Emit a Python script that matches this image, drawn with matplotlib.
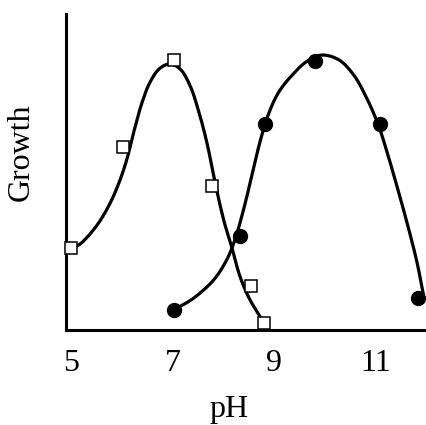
import matplotlib

matplotlib.use("Agg")
import matplotlib.pyplot as plt
import numpy as np

# open squares: measured points
SQ_PH = [5.00, 6.02, 7.03, 7.78, 8.55, 8.81]
SQ_GROWTH = [25.9, 57.9, 85.4, 45.6, 13.9, 2.2]
# filled circles: measured points
CI_PH = [7.03, 8.33, 8.83, 9.81, 11.09, 11.84]
CI_GROWTH = [6.3, 29.7, 65.2, 85.1, 65.2, 10.1]

# hand-drawn fitted curves
SQ_CURVE_PH = [5.00, 5.16, 5.49, 5.75, 5.95, 6.10, 6.25, 6.40, 6.56, 6.75, 6.95,
               7.15, 7.35, 7.52, 7.68, 7.84, 8.02, 8.17, 8.33, 8.53, 8.73, 8.79]
SQ_CURVE_G = [25.9, 27.0, 32.7, 39.5, 46.8, 54.0, 63.5, 72.0, 78.5, 82.8, 84.2,
              82.6, 77.2, 69.0, 59.2, 46.6, 34.2, 26.2, 17.0, 9.5, 4.2, 2.1]
CI_CURVE_PH = [7.02, 7.41, 7.81, 8.07, 8.23, 8.40, 8.56, 8.73, 8.90, 9.10, 9.38,
               9.65, 9.94, 10.27, 10.57, 10.83, 11.06, 11.23, 11.42, 11.62, 11.82, 11.95]
CI_CURVE_G = [6.3, 10.0, 15.8, 22.2, 28.5, 38.0, 48.5, 59.8, 68.6, 75.4, 81.0,
              85.0, 87.0, 85.6, 80.8, 73.4, 64.9, 56.4, 45.9, 34.3, 21.6, 11.1]

XTICKS = [5, 7, 9, 11]


def smooth(xs, ys, n=20):
    # centripetal catmull-rom through the read points, only to draw them smoothly
    p = np.column_stack([xs, np.array(ys) / 14.0])
    p = np.vstack([2 * p[0] - p[1], p, 2 * p[-1] - p[-2]])
    out = []
    for i in range(1, len(p) - 2):
        p0, p1, p2, p3 = p[i - 1], p[i], p[i + 1], p[i + 2]
        t0 = 0.0
        t1 = t0 + np.linalg.norm(p1 - p0) ** 0.5
        t2 = t1 + np.linalg.norm(p2 - p1) ** 0.5
        t3 = t2 + np.linalg.norm(p3 - p2) ** 0.5
        t = np.linspace(t1, t2, n, endpoint=False)[:, None]
        a1 = (t1 - t) / (t1 - t0) * p0 + (t - t0) / (t1 - t0) * p1
        a2 = (t2 - t) / (t2 - t1) * p1 + (t - t1) / (t2 - t1) * p2
        a3 = (t3 - t) / (t3 - t2) * p2 + (t - t2) / (t3 - t2) * p3
        b1 = (t2 - t) / (t2 - t0) * a1 + (t - t0) / (t2 - t0) * a2
        b2 = (t3 - t) / (t3 - t1) * a2 + (t - t1) / (t3 - t1) * a3
        out.append((t2 - t) / (t2 - t1) * b1 + (t - t1) / (t2 - t1) * b2)
    out.append(p[-2][None, :])
    c = np.vstack(out)
    return c[:, 0], c[:, 1] * 14.0


plt.rcParams["font.family"] = ["Liberation Serif", "DejaVu Serif"]

fig = plt.figure(figsize=(4.26, 4.25), dpi=100)
ax = fig.add_axes([66 / 426, 95 / 425, 360 / 426, 316 / 425])

for cx, cy in ((SQ_CURVE_PH, SQ_CURVE_G), (CI_CURVE_PH, CI_CURVE_G)):
    sx, sy = smooth(cx, cy)
    ax.plot(sx, sy, color="black", lw=2.3, solid_capstyle="round", zorder=2)
ax.plot(SQ_PH, SQ_GROWTH, ls="none", marker="s", ms=9, mfc="white", mec="black",
        mew=1.1, zorder=3, clip_on=False)
ax.plot(CI_PH, CI_GROWTH, ls="none", marker="o", ms=10, color="black", zorder=3,
        clip_on=False)

ax.set_xlim(4.9, 12.0)
ax.set_ylim(0, 100)
ax.set_xticks(XTICKS)
ax.set_xticklabels([str(t) for t in XTICKS])
ax.set_yticks([])
ax.tick_params(axis="x", length=0, pad=14, labelsize=23)

for s in ("top", "right"):
    ax.spines[s].set_visible(False)
for s in ("left", "bottom"):
    ax.spines[s].set_linewidth(2.2)

ax.set_xlabel("pH", fontsize=23)
ax.xaxis.set_label_coords(0.453, -0.205)
ax.set_ylabel("Growth", fontsize=23, va="center")
ax.yaxis.set_label_coords(-0.125, 0.563)

fig.savefig("out.png", dpi=100, facecolor="white")
